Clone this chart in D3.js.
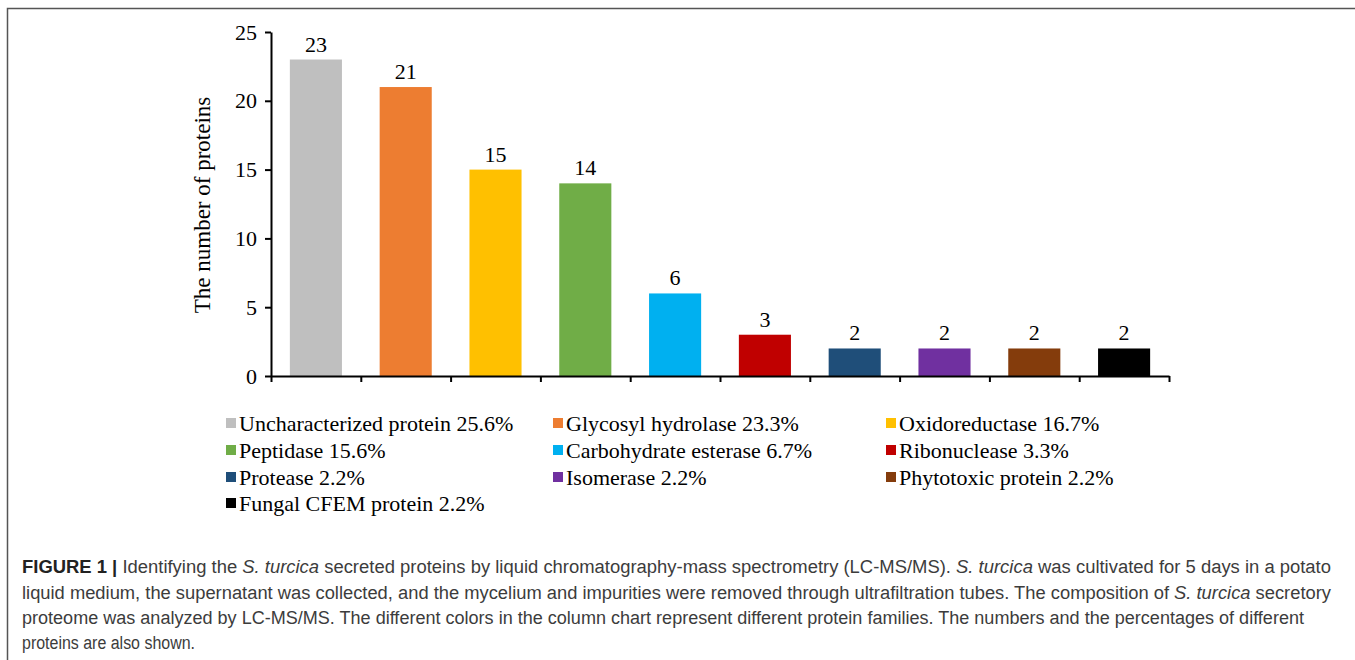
<!DOCTYPE html>
<html>
<head>
<meta charset="utf-8">
<script src="https://cdn.jsdelivr.net/npm/d3@7"></script>
<style>
  html, body { margin: 0; padding: 0; background: #fff; }
  svg { display: block; }
  .serif { font-family: "Liberation Serif", "Times New Roman", serif; fill: #000; }
  .cap { font-family: "Liberation Sans Narrow", "Arial Narrow", "Liberation Sans", sans-serif; font-stretch: condensed; fill: #3c3c3c; font-size: 18px; }
</style>
</head>
<body>
<script>
// Protein families found in the secretome
const categories = [
  "Uncharacterized protein", "Glycosyl hydrolase", "Oxidoreductase", "Peptidase",
  "Carbohydrate esterase", "Ribonuclease", "Protease", "Isomerase",
  "Phytotoxic protein", "Fungal CFEM protein"
];
const counts = [23, 21, 15, 14, 6, 3, 2, 2, 2, 2];
const percents = ["25.6%", "23.3%", "16.7%", "15.6%", "6.7%", "3.3%", "2.2%", "2.2%", "2.2%", "2.2%"];
const colors = ["#BFBFBF", "#ED7D31", "#FFC000", "#70AD47", "#00B0F0",
                "#C00000", "#1F4E79", "#7030A0", "#843C0C", "#000000"];
const yTicks = [0, 5, 10, 15, 20, 25];

const W = 1355, H = 660;
const svg = d3.select("body").append("svg").attr("width", W).attr("height", H);

// figure frame (top and left rules)
svg.append("path")
  .attr("d", `M7.5,${H} V8.5 H${W}`)
  .attr("fill", "none").attr("stroke", "#555").attr("stroke-width", 1.5);

const x0 = 271, x1 = 1169, yBase = 376, yTop = 32;
const x = d3.scaleBand().domain(categories).range([x0, x1])
  .paddingInner(0.42).paddingOuter(0.21);
const y = d3.scaleLinear().domain([0, 25]).range([yBase, yTop]);
const color = d3.scaleOrdinal().domain(categories).range(colors);

// bars
svg.append("g").selectAll("rect").data(categories).join("rect")
  .attr("x", d => x(d))
  .attr("width", x.bandwidth())
  .attr("y", (d, i) => y(counts[i]))
  .attr("height", (d, i) => y(0) - y(counts[i]))
  .attr("fill", d => color(d));

// value labels
svg.append("g").selectAll("text").data(categories).join("text")
  .attr("class", "serif")
  .attr("x", d => x(d) + x.bandwidth() / 2)
  .attr("y", (d, i) => y(counts[i]) - 8)
  .attr("text-anchor", "middle")
  .attr("font-size", 22)
  .text((d, i) => counts[i]);

// y axis
const yAxis = svg.append("g").attr("transform", `translate(${x0},0)`)
  .call(d3.axisLeft(y).tickValues(yTicks).tickSize(6).tickSizeOuter(0).tickPadding(8));
yAxis.select(".domain").attr("stroke", "#000").attr("stroke-width", 2);
yAxis.selectAll(".tick line").attr("stroke", "#000").attr("stroke-width", 2);
yAxis.selectAll(".tick text").attr("class", "serif").attr("font-size", 22).attr("fill", "#000");

// x axis with ticks at category boundaries
const xb = d3.scaleLinear().domain([0, categories.length]).range([x0, x1]);
const xAxis = svg.append("g").attr("transform", `translate(0,${yBase})`)
  .call(d3.axisBottom(xb).tickValues(d3.range(categories.length + 1)).tickSize(6).tickSizeOuter(0).tickFormat(""));
xAxis.select(".domain").attr("stroke", "#000").attr("stroke-width", 2);
xAxis.selectAll(".tick line").attr("stroke", "#000").attr("stroke-width", 2);

// y axis title
svg.append("text").attr("class", "serif")
  .attr("transform", "translate(210,205) rotate(-90)")
  .attr("text-anchor", "middle")
  .attr("font-size", 23)
  .text("The number of proteins");

// legend: three columns
const legCols = [226, 553, 886];
const legRows = [431, 458, 485, 511];
const leg = svg.append("g").selectAll("g").data(categories).join("g")
  .attr("transform", (d, i) => `translate(${legCols[i % 3]},${legRows[Math.floor(i / 3)]})`);
leg.append("rect").attr("x", 0).attr("y", -13).attr("width", 10).attr("height", 10)
  .attr("fill", d => color(d));
leg.append("text").attr("class", "serif").attr("x", 13).attr("y", 0)
  .attr("font-size", 22)
  .text((d, i) => `${d} ${percents[i]}`);

// caption
const capLines = [
  { w: 1309, parts: [["FIGURE 1 | ", "b"], ["Identifying the ", ""], ["S. turcica", "i"],
    [" secreted proteins by liquid chromatography-mass spectrometry (LC-MS/MS). ", ""], ["S. turcica", "i"],
    [" was cultivated for 5 days in a potato", ""]] },
  { w: 1309, parts: [["liquid medium, the supernatant was collected, and the mycelium and impurities were removed through ultrafiltration tubes. The composition of ", ""],
    ["S. turcica", "i"], [" secretory", ""]] },
  { w: 1282, parts: [["proteome was analyzed by LC-MS/MS. The different colors in the column chart represent different protein families. The numbers and the percentages of different", ""]] },
  { w: 173, parts: [["proteins are also shown.", ""]] }
];
const capY = [573, 599, 624, 649];
capLines.forEach((ln, k) => {
  const t = svg.append("text").attr("class", "cap").attr("x", 22).attr("y", capY[k])
    .attr("textLength", ln.w).attr("lengthAdjust", "spacingAndGlyphs");
  ln.parts.forEach(([s, st]) => {
    const ts = t.append("tspan").text(s);
    if (st === "b") ts.attr("font-weight", "bold").attr("fill", "#222");
    if (st === "i") ts.attr("font-style", "italic");
  });
});
</script>
</body>
</html>
